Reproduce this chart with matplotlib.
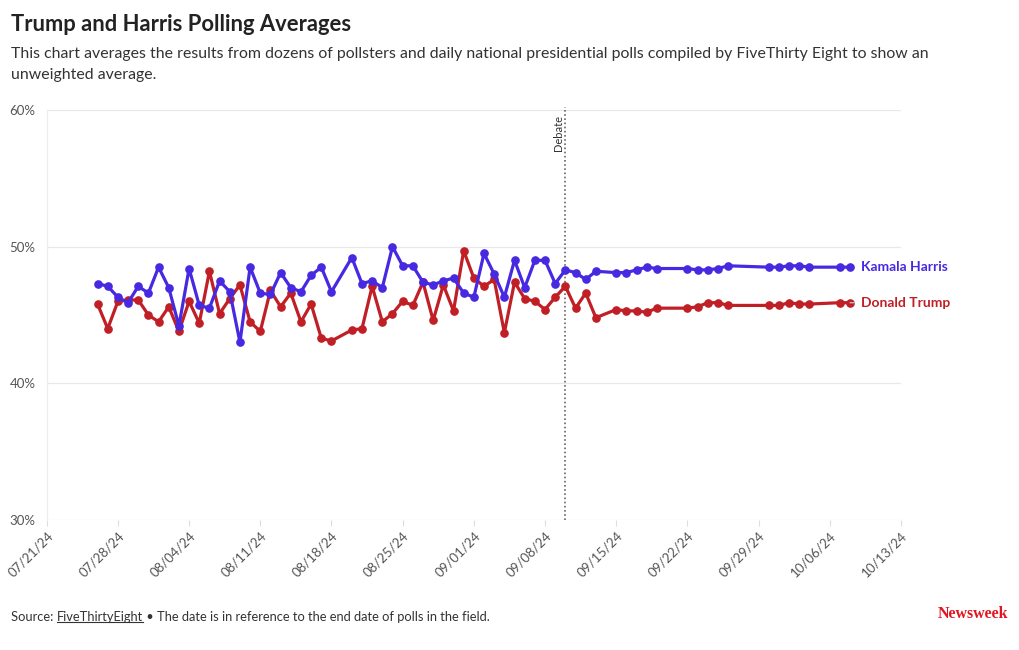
import pandas as pd
import numpy as np
import matplotlib
matplotlib.use('Agg')
import matplotlib.pyplot as plt

plt.rcParams['font.family'] = ['Lato', 'DejaVu Sans']

# end dates of polls in the field
dates = [
    '07/26/24', '07/27/24', '07/28/24', '07/29/24', '07/30/24', '07/31/24',
    '08/01/24', '08/02/24', '08/03/24', '08/04/24', '08/05/24', '08/06/24', '08/07/24',
    '08/08/24', '08/09/24', '08/10/24', '08/11/24', '08/12/24', '08/13/24', '08/14/24',
    '08/15/24', '08/16/24', '08/17/24', '08/18/24',
    '08/20/24', '08/21/24', '08/22/24', '08/23/24', '08/24/24', '08/25/24', '08/26/24',
    '08/27/24', '08/28/24', '08/29/24', '08/30/24', '08/31/24', '09/01/24', '09/02/24',
    '09/03/24', '09/04/24', '09/05/24', '09/06/24', '09/07/24', '09/08/24', '09/09/24',
    '09/10/24', '09/11/24', '09/12/24', '09/13/24',
    '09/15/24', '09/16/24', '09/17/24', '09/18/24', '09/19/24',
    '09/22/24', '09/23/24', '09/24/24', '09/25/24', '09/26/24',
    '09/30/24', '10/01/24', '10/02/24', '10/03/24', '10/04/24',
    '10/07/24', '10/08/24',
]

harris = [
    47.3, 47.1, 46.3, 45.9, 47.1, 46.6, 48.5, 47.0, 44.2, 48.4, 45.7, 45.5, 47.5,
    46.7, 43.0, 48.5, 46.6, 46.5, 48.1, 47.0, 46.7, 47.9, 48.5, 46.7,
    49.2, 47.3, 47.5, 47.0, 50.0, 48.6, 48.6, 47.4, 47.2, 47.5, 47.7, 46.6, 46.3,
    49.5, 48.0, 46.3, 49.0, 47.0, 49.0, 49.0, 47.3, 48.3, 48.1, 47.6, 48.2,
    48.1, 48.1, 48.3, 48.5, 48.4,
    48.4, 48.3, 48.3, 48.4, 48.6,
    48.5, 48.5, 48.6, 48.6, 48.5,
    48.5, 48.5,
]

trump = [
    45.8, 44.0, 46.0, 46.1, 46.1, 45.0, 44.5, 45.6, 43.8, 46.0, 44.4, 48.2, 45.1,
    46.2, 47.2, 44.5, 43.8, 46.8, 45.6, 46.6, 44.5, 45.8, 43.3, 43.1,
    43.9, 44.0, 47.1, 44.5, 45.1, 46.0, 45.7, 47.4, 44.6, 47.2, 45.3, 49.7, 47.7,
    47.1, 47.6, 43.7, 47.4, 46.2, 46.0, 45.4, 46.3, 47.1, 45.5, 46.6, 44.8,
    45.4, 45.3, 45.3, 45.2, 45.5,
    45.5, 45.6, 45.9, 45.9, 45.7,
    45.7, 45.7, 45.9, 45.8, 45.8,
    45.9, 45.9,
]

tick_labels = ['07/21/24', '07/28/24', '08/04/24', '08/11/24', '08/18/24', '08/25/24',
               '09/01/24', '09/08/24', '09/15/24', '09/22/24', '09/29/24', '10/06/24',
               '10/13/24']
y_ticks = [30, 40, 50, 60]
debate_date = '09/10/24'

HARRIS_C = '#4629e0'
TRUMP_C = '#c01f26'

x = pd.to_datetime(dates, format='%m/%d/%y')
xt = pd.to_datetime(tick_labels, format='%m/%d/%y')

fig = plt.figure(figsize=(10.2, 6.5), dpi=100)
ax = fig.add_axes([0.0458, 0.2, 0.8375, 0.6308])

ax.plot(x, trump, color=TRUMP_C, lw=2.3, marker='o', ms=5.2, zorder=3)
ax.plot(x, harris, color=HARRIS_C, lw=2.3, marker='o', ms=5.2, zorder=4)

ax.set_xlim(xt[0], xt[-1])
ax.set_ylim(30, 60)
ax.set_yticks(y_ticks)
ax.set_yticklabels([f'{v}%' for v in y_ticks])
ax.set_xticks(xt)
ax.set_xticklabels(tick_labels, rotation=45, ha='right', rotation_mode='anchor')

for v in y_ticks:
    ax.axhline(v, color='#e8e8e8', lw=0.9, zorder=1)

for s in ['top', 'right', 'bottom']:
    ax.spines[s].set_visible(False)
ax.spines['left'].set_color('#eeeeee')
ax.spines['left'].set_linewidth(0.9)
ax.tick_params(axis='y', length=0, pad=8, labelsize=9.5, labelcolor='#555555')
ax.tick_params(axis='x', length=4, color='#dddddd', pad=3, labelsize=9.5, labelcolor='#555555')

# debate marker
dd = pd.to_datetime(debate_date, format='%m/%d/%y')
ax.plot([dd, dd], [30, 60.2], color='#666666', lw=1.2, ls=(0, (1, 1.5)), zorder=2, clip_on=False)
ax.text(dd, 59.8, 'Debate ', rotation=90, ha='right', va='top', fontsize=8, color='#333333')

# end labels
for vals, name, c in [(harris, 'Kamala Harris', HARRIS_C), (trump, 'Donald Trump', TRUMP_C)]:
    ax.annotate(name, xy=(x[-1], vals[-1]), xytext=(7.5, 0), textcoords='offset points',
                ha='left', va='center', fontsize=10, fontweight='bold', color=c,
                arrowprops=dict(arrowstyle='-', color='#bbbbbb', lw=1, shrinkA=2.5, shrinkB=3))

# title and subtitle
fig.text(0.0108, 0.963, 'Trump and Harris Polling Averages', fontsize=15.8,
         fontweight='bold', color='#222222', va='center')
fig.text(0.0108, 0.917, 'This chart averages the results from dozens of pollsters and daily national '
         'presidential polls compiled by FiveThirty Eight to show an', fontsize=11.4,
         color='#333333', va='center')
fig.text(0.0108, 0.885, 'unweighted average.', fontsize=11.4, color='#333333', va='center')

# footer
fig.canvas.draw()
r = fig.canvas.get_renderer()
t1 = fig.text(0.0108, 0.051, 'Source: ', fontsize=9.3, color='#333333', va='center')
b1 = t1.get_window_extent(r)
t2 = fig.text(b1.x1 / fig.bbox.width, 0.051, 'FiveThirtyEight', fontsize=9.3,
              color='#333333', va='center')
b2 = t2.get_window_extent(r)
fig.add_artist(plt.Line2D([b2.x0 / fig.bbox.width, b2.x1 / fig.bbox.width],
                          [b2.y0 / fig.bbox.height + 0.001] * 2, color='#333333', lw=0.8))
fig.text(b2.x1 / fig.bbox.width, 0.051,
         ' \u2022 The date is in reference to the end date of polls in the field.',
         fontsize=9.3, color='#333333', va='center')

fig.text(0.988, 0.055, 'Newsweek', fontsize=11.5, fontweight='bold', color='#e3141f',
         ha='right', va='center', family=['Liberation Serif', 'DejaVu Serif'])

fig.savefig('out.png', dpi=100)
